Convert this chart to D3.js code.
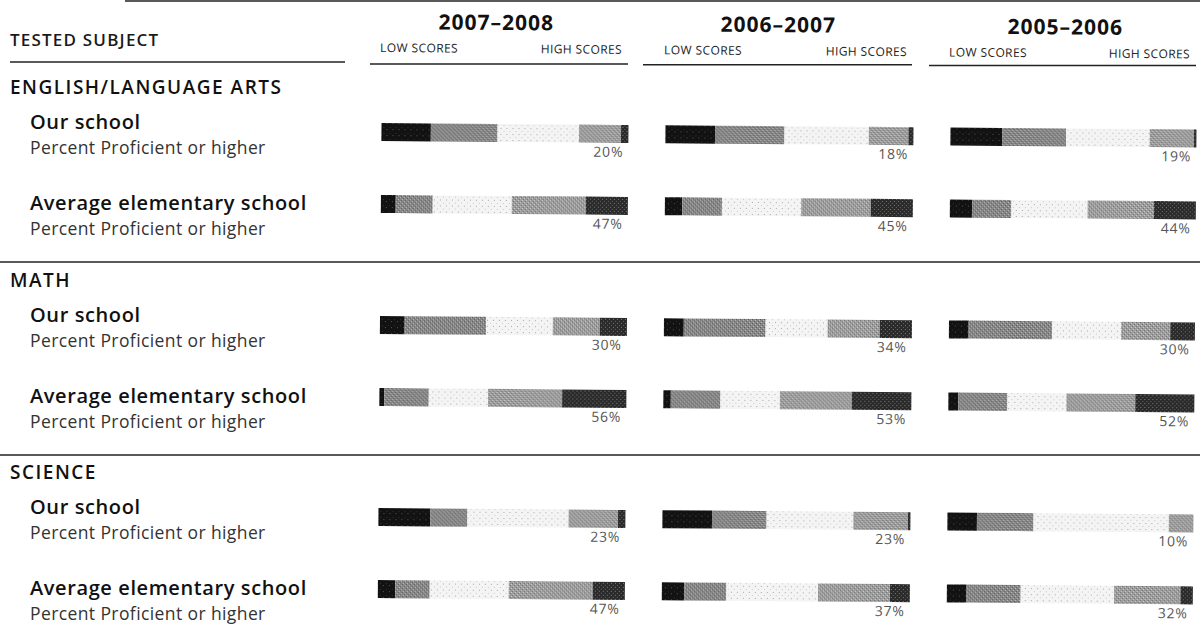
<!DOCTYPE html>
<html>
<head>
<meta charset="utf-8">
<script src="https://cdn.jsdelivr.net/npm/d3@7"></script>
<style>
  html, body { margin: 0; padding: 0; background: #fff; }
  svg { display: block; font-family: "Open Sans", "Noto Sans", sans-serif; }
</style>
</head>
<body>
<svg id="chart" width="1200" height="633"></svg>
<script>
// School years shown as columns, newest first
const years = ["2007–2008", "2006–2007", "2005–2006"];
const subjects = ["ENGLISH/LANGUAGE ARTS", "MATH", "SCIENCE"];
const groups = ["Our school", "Average elementary school"];
const subLabel = "Percent Proficient or higher";
const levels = ["Far Below Basic", "Below Basic", "Basic", "Proficient", "Advanced"];

// Percent of students at each level, one row per year (2007–08, 2006–07, 2005–06)
const elaOurSchool  = [[20, 27, 33, 17, 3], [20, 28, 34, 16, 2], [21, 26, 34, 18, 1]];
const elaAverage    = [[6, 15, 32, 30, 17], [7, 16, 32, 28, 17], [9, 16, 31, 27, 17]];
const mathOurSchool = [[10, 33, 27, 19, 11], [8, 33, 25, 21, 13], [8, 34, 28, 20, 10]];
const mathAverage   = [[2, 18, 24, 30, 26], [3, 20, 24, 29, 24], [4, 20, 24, 28, 24]];
const sciOurSchool  = [[21, 15, 41, 20, 3], [20, 22, 35, 22, 1], [12, 23, 55, 10, 0]];
const sciAverage    = [[7, 14, 32, 34, 13], [9, 17, 37, 29, 8], [8, 22, 38, 27, 5]];

const subjectData = [
  [elaOurSchool, elaAverage],
  [mathOurSchool, mathAverage],
  [sciOurSchool, sciAverage]
];

const svg = d3.select("#chart");

// Halftone-like fills for the five performance levels
const defs = svg.append("defs");
function dither(id, base, dots, size, step) {
  const p = defs.append("pattern").attr("id", id)
    .attr("patternUnits", "userSpaceOnUse").attr("width", size).attr("height", size);
  p.append("rect").attr("width", size).attr("height", size).attr("fill", base);
  dots.forEach(([x, y, c]) => p.append("rect").attr("x", x).attr("y", y)
    .attr("width", step).attr("height", step).attr("fill", c));
}
dither("lv0", "#121212", [[1, 3, "#555"], [4, 1, "#333"]], 6, 1);
dither("lv1", "#868686", [[0, 0, "#555"], [2, 2, "#5e5e5e"], [1, 3, "#c4c4c4"], [3, 1, "#bdbdbd"]], 4, 1);
dither("lv2", "#f4f4f4", [[1, 1, "#a8a8a8"], [4, 4, "#c8c8c8"]], 6, 1);
dither("lv3", "#9c9c9c", [[0, 0, "#6a6a6a"], [2, 2, "#707070"], [1, 3, "#d6d6d6"], [3, 1, "#d0d0d0"]], 4, 1);
dither("lv4", "#2a2a2a", [[1, 1, "#808080"], [3, 3, "#666"]], 4, 1);

// Rules and row labels
const base = svg.append("g");
// Year columns (printed slightly askew)
const cols = svg.append("g").attr("transform", "rotate(0.45, 380, 316)");

// Column extents and per-year scales
const colRanges = [[380, 627], [664, 912], [949, 1195]];
const xScales = colRanges.map(r => d3.scaleLinear().domain([0, 100]).range(r));
const yearCenters = [494, 776, 1063];

// Rules
base.append("line").attr("x1", 125).attr("x2", 1200).attr("y1", 1).attr("y2", 1)
  .attr("stroke", "#222").attr("stroke-width", 1.5);
base.append("line").attr("x1", 10).attr("x2", 345).attr("y1", 62).attr("y2", 62)
  .attr("stroke", "#222").attr("stroke-width", 1.5);
const headRules = [[370, 628], [643, 912], [929, 1196]];
headRules.forEach(([a, b], i) => base.append("line").attr("x1", a).attr("x2", b)
  .attr("y1", 64 + i * 0.7).attr("y2", 64 + i * 0.7).attr("stroke", "#222").attr("stroke-width", 1.5));

// Header texts
base.append("text").attr("x", 10).attr("y", 46).text("TESTED SUBJECT")
  .attr("font-size", 17).attr("font-weight", 600).attr("letter-spacing", 1.2).attr("fill", "#1a1a1a");

years.forEach((yr, i) => {
  cols.append("text").attr("x", yearCenters[i]).attr("y", 29).attr("text-anchor", "middle")
    .attr("font-size", 21).attr("font-weight", 700).attr("letter-spacing", 1).attr("fill", "#111").text(yr);
  cols.append("text").attr("x", colRanges[i][0] - 2).attr("y", 52)
    .attr("font-size", 12).attr("letter-spacing", 0.4).attr("fill", "#222").text("LOW SCORES");
  cols.append("text").attr("x", colRanges[i][1] - 7).attr("y", 52).attr("text-anchor", "end")
    .attr("font-size", 12).attr("letter-spacing", 0.4).attr("fill", "#222").text("HIGH SCORES");
});

// Subject blocks
const blockOffsets = [0, 193, 385];
const barH = 18;
const barTop = [123, 195];
const nameBase = [129, 210];

subjects.forEach((subj, s) => {
  const off = blockOffsets[s];
  base.append("text").attr("x", 10).attr("y", 94 + off)
    .attr("font-size", 19).attr("font-weight", 600).attr("letter-spacing", 1.5)
    .attr("fill", "#111").text(subj);
  if (s < subjects.length - 1) {
    base.append("line").attr("x1", 0).attr("x2", 1200)
      .attr("y1", 262 + off).attr("y2", 262 + off)
      .attr("stroke", "#222").attr("stroke-width", 1.5);
  }

  groups.forEach((grp, k) => {
    const top = barTop[k] + off;
    base.append("text").attr("x", 30).attr("y", nameBase[k] + off)
      .attr("font-size", 20).attr("font-weight", 600).attr("letter-spacing", 0.6)
      .attr("fill", "#111").text(grp);
    base.append("text").attr("x", 30).attr("y", nameBase[k] + off + 25)
      .attr("font-size", 17.5).attr("letter-spacing", 0.4).attr("fill", "#333").text(subLabel);

    subjectData[s][k].forEach((vals, c) => {
      const x = xScales[c];
      const stack = d3.stack().keys(d3.range(levels.length))([vals]);
      const row = cols.append("g");
      row.selectAll("rect").data(stack).join("rect")
        .attr("x", d => x(d[0][0]))
        .attr("width", d => x(d[0][1]) - x(d[0][0]))
        .attr("y", top)
        .attr("height", barH)
        .attr("fill", (d, i) => `url(#lv${i})`);
      const proficient = vals[3] + vals[4];
      row.append("text").attr("x", x(100) - 5).attr("y", top + barH + 14)
        .attr("text-anchor", "end").attr("font-size", 14).attr("letter-spacing", 0.8)
        .attr("fill", "#555").text(proficient + "%");
    });
  });
});
</script>
</body>
</html>
